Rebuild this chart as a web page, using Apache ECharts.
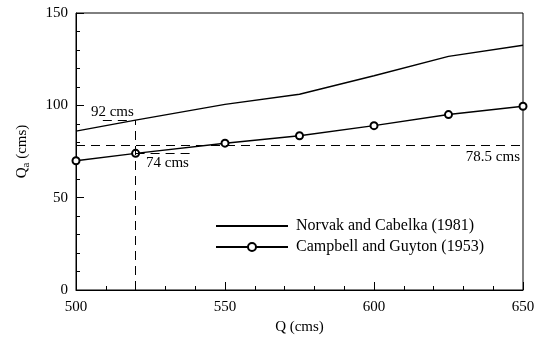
<!DOCTYPE html>
<html>
<head>
<meta charset="utf-8">
<script src="https://cdn.jsdelivr.net/npm/echarts@6/dist/echarts.min.js"></script>
<style>
  html, body { margin: 0; padding: 0; background: #fff; }
  #main { width: 547px; height: 340px; }
</style>
</head>
<body>
<div id="main"></div>
<script>
// discharge Q (cms)
const qValues = [500, 520, 550, 575, 600, 625, 650]
// Norvak and Cabelka (1981)
const norvak = [86, 92, 100.5, 106, 116, 126.5, 132.5]
// Campbell and Guyton (1953)
const campbell = [70, 74, 79.5, 83.5, 89, 95, 99.5]
// reference levels
const designQ = 520
const meanQa = 78.5
// annotation texts and anchors
const noteTexts = ['92 cms', '74 cms', '78.5 cms']
const noteAnchors = [[505, 96.5], [523.5, 69], [649, 72]]
const notePositions = ['right', 'right', 'left']

const font = 'Liberation Serif'
const chart = echarts.init(document.getElementById('main'))

const axisCommon = {
  axisLine: { lineStyle: { color: '#000', width: 1 } },
  axisTick: { inside: true, length: 8, lineStyle: { color: '#000' } },
  minorTick: { show: true, splitNumber: 5, length: 4, lineStyle: { color: '#000' } },
  splitLine: { show: false },
  axisLabel: { color: '#000', fontFamily: font, fontSize: 15 },
  nameTextStyle: { color: '#000', fontFamily: font, fontSize: 15 },
}

const dashed = { color: '#000', width: 1, type: [9, 6] }

chart.setOption({
  animation: false,
  grid: {
    left: 76, right: 24, top: 13, bottom: 49,
    show: true, borderColor: '#000', borderWidth: 1,
  },
  legend: {
    left: 210, top: 213,
    orient: 'vertical',
    itemWidth: 72, itemHeight: 10, itemGap: 5,
    textStyle: { color: '#000', fontFamily: font, fontSize: 16, padding: [0, 0, 0, 3] },
    data: [
      { name: 'Norvak and Cabelka (1981)', itemStyle: { opacity: 0 } },
      { name: 'Campbell and Guyton (1953)' },
    ],
  },
  xAxis: {
    ...axisCommon,
    type: 'value', min: 500, max: 650, interval: 50,
    name: 'Q (cms)', nameLocation: 'middle', nameGap: 30,
    axisLabel: { ...axisCommon.axisLabel, margin: 10 },
  },
  yAxis: {
    ...axisCommon,
    type: 'value', min: 0, max: 150, interval: 50,
    name: '{a|Q}{b|a}{a| (cms)}', nameLocation: 'middle', nameGap: 44,
    nameTextStyle: {
      rich: {
        a: { color: '#000', fontFamily: font, fontSize: 15 },
        b: { color: '#000', fontFamily: font, fontSize: 11, padding: [8, 0, 0, 0] },
      },
    },
  },
  series: [
    {
      name: 'Norvak and Cabelka (1981)',
      type: 'line',
      symbol: 'none',
      lineStyle: { color: '#000', width: 1.4 },
      itemStyle: { color: '#000' },
      data: qValues.map((q, i) => [q, norvak[i]]),
      markLine: {
        silent: true, symbol: 'none', label: { show: false },
        lineStyle: dashed,
        data: [
          [{ coord: [500, meanQa] }, { coord: [650, meanQa] }],
          [{ coord: [designQ, 0] }, { coord: [designQ, norvak[1]] }],
          [{ coord: [509, norvak[1]] }, { coord: [designQ, norvak[1]] }],
          [{ coord: [designQ, campbell[1]] }, { coord: [539, campbell[1]] }],
        ],
      },
      markPoint: {
        silent: true, symbol: 'circle', symbolSize: 0,
        label: { show: true, color: '#000', fontFamily: font, fontSize: 15, distance: 0 },
        data: noteTexts.map((t, i) => ({
          coord: noteAnchors[i], value: t,
          label: { position: notePositions[i], formatter: t },
        })),
      },
    },
    {
      name: 'Campbell and Guyton (1953)',
      type: 'line',
      symbol: 'emptyCircle', symbolSize: 7,
      lineStyle: { color: '#000', width: 1.4 },
      itemStyle: { color: '#000', borderColor: '#000', borderWidth: 1.5 },
      data: qValues.map((q, i) => [q, campbell[i]]),
    },
  ],
})
</script>
</body>
</html>
